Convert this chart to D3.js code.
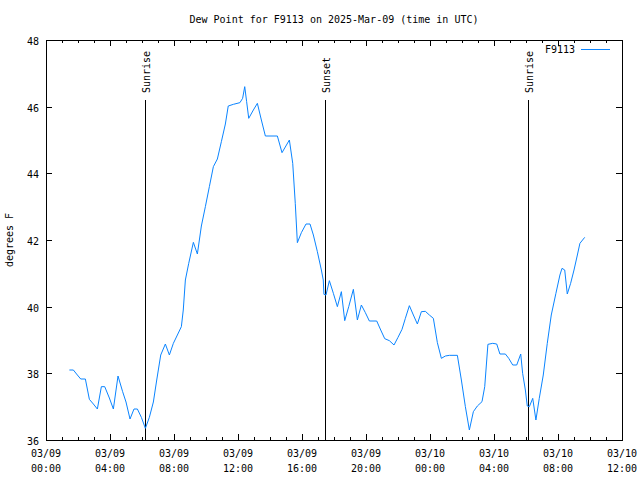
<!DOCTYPE html>
<html><head><meta charset="utf-8">
<script src="https://cdn.jsdelivr.net/npm/d3@7"></script>
<style>body{margin:0;background:#fff}svg{display:block}text{font-family:"DejaVu Sans Mono",monospace;font-size:10px;fill:#000}</style>
</head><body><svg id="c" width="640" height="480"></svg>
<script>
const title = "Dew Point for F9113 on 2025-Mar-09 (time in UTC)";
const seriesName = "F9113";
const yLabel = "degrees F";
// hours since 2025-03-09 00:00 UTC
const hours = [1.46,1.71,1.96,2.17,2.46,2.71,2.96,3.21,3.46,3.67,3.96,4.21,4.5,4.79,5.0,5.25,5.5,5.71,5.96,6.21,6.46,6.71,6.92,7.17,7.46,7.71,7.96,8.21,8.46,8.58,8.71,8.92,9.21,9.46,9.71,9.96,10.21,10.46,10.71,10.96,11.21,11.39,11.71,12.12,12.29,12.42,12.54,12.67,12.96,13.21,13.46,13.71,14.46,14.75,15.21,15.42,15.58,15.71,15.96,16.25,16.5,16.71,16.96,17.21,17.33,17.37,17.5,17.71,17.96,18.21,18.46,18.67,18.92,19.21,19.46,19.71,19.96,20.21,20.67,20.92,21.17,21.46,21.75,22.0,22.25,22.46,22.71,22.96,23.21,23.46,23.71,23.96,24.21,24.46,24.71,24.96,25.21,25.71,25.96,26.21,26.46,26.71,26.96,27.25,27.42,27.62,27.92,28.17,28.37,28.71,28.92,29.17,29.42,29.67,29.79,29.96,30.08,30.21,30.42,30.62,30.83,31.08,31.33,31.58,31.87,32.12,32.25,32.42,32.58,32.79,33.0,33.21,33.37,33.67];
const dewF = [38.1,38.1,37.95,37.83,37.83,37.22,37.08,36.93,37.6,37.6,37.26,36.93,37.92,37.45,37.14,36.63,36.93,36.93,36.68,36.35,36.68,37.14,37.8,38.55,38.88,38.55,38.9,39.15,39.4,39.9,40.8,41.3,41.93,41.58,42.42,43.0,43.6,44.2,44.43,44.95,45.48,46.02,46.07,46.12,46.25,46.6,46.15,45.65,45.9,46.1,45.6,45.12,45.12,44.62,45.0,44.3,43.1,41.92,42.22,42.48,42.48,42.15,41.65,41.1,40.8,40.37,40.35,40.78,40.4,40.0,40.45,39.58,40.0,40.52,39.6,40.05,39.82,39.57,39.57,39.3,39.04,38.98,38.85,39.08,39.32,39.65,40.03,39.75,39.48,39.85,39.86,39.75,39.65,38.92,38.45,38.52,38.54,38.54,37.8,37.0,36.3,36.85,37.02,37.15,37.6,38.87,38.9,38.88,38.58,38.58,38.45,38.25,38.25,38.58,38.0,37.5,37.02,37.0,37.25,36.6,37.25,37.95,38.9,39.75,40.4,40.95,41.15,41.1,40.38,40.7,41.1,41.55,41.9,42.08];
const events = [{label:"Sunrise", h:6.2},{label:"Sunset", h:17.46},{label:"Sunrise", h:30.12}];
const yTicks = [36,38,40,42,44,46,48];
const xTickHours = [0,4,8,12,16,20,24,28,32,36];

const t0 = Date.UTC(2025,2,9,0,0);
const toDate = h => new Date(t0 + h*3600000);
const L=46,R=622,T=40,B=440;
const svg = d3.select("#c");
const x = d3.scaleUtc().domain([toDate(0), toDate(36)]).range([L,R]);
const y = d3.scaleLinear().domain([36,48]).range([B,T]);

svg.append("rect").attr("x",L+0.5).attr("y",T+0.5).attr("width",R-L).attr("height",B-T)
  .attr("fill","none").attr("stroke","#000").attr("stroke-width",1);

const fmt = d3.utcFormat("%m/%d");
const fmt2 = d3.utcFormat("%H:%M");
const minorHours = d3.range(0,37);
const g = svg.append("g");
minorHours.forEach(h=>{
  const major = xTickHours.includes(h);
  const len = major?6:3;
  const xx = Math.round(x(toDate(h)))+0.5;
  g.append("line").attr("x1",xx).attr("x2",xx).attr("y1",B).attr("y2",B-len).attr("stroke","#000");
  g.append("line").attr("x1",xx).attr("x2",xx).attr("y1",T).attr("y2",T+len).attr("stroke","#000");
});
xTickHours.forEach(h=>{
  const d = toDate(h);
  const t = g.append("text").attr("x",x(d)).attr("text-anchor","middle");
  t.append("tspan").attr("x",x(d)).attr("y",457).text(fmt(d));
  t.append("tspan").attr("x",x(d)).attr("y",472).text(fmt2(d));
});
yTicks.forEach(v=>{
  const yy = Math.round(y(v))+0.5;
  g.append("line").attr("x1",L).attr("x2",L+6).attr("y1",yy).attr("y2",yy).attr("stroke","#000");
  g.append("line").attr("x1",R).attr("x2",R-6).attr("y1",yy).attr("y2",yy).attr("stroke","#000");
  g.append("text").attr("x",L-7).attr("y",y(v)+5).attr("text-anchor","end").text(v);
});

events.forEach(e=>{
  const xx = Math.round(x(toDate(e.h)))+0.5;
  svg.append("line").attr("x1",xx).attr("x2",xx).attr("y1",100).attr("y2",B).attr("stroke","#000");
  svg.append("text").attr("transform",`translate(${xx+4},93) rotate(-90)`).attr("text-anchor","start").text(e.label);
});

const line = d3.line().x((d,i)=>x(toDate(hours[i]))).y(d=>y(d));
svg.append("path").datum(dewF).attr("d",line).attr("fill","none").attr("stroke","#0a84ff").attr("stroke-width",1);

svg.append("text").attr("x",334).attr("y",23).attr("text-anchor","middle").text(title);
svg.append("text").attr("transform","translate(12.5,240) rotate(-90)").attr("text-anchor","middle").text(yLabel);
svg.append("text").attr("x",575).attr("y",53).attr("text-anchor","end").text(seriesName);
svg.append("line").attr("x1",581).attr("x2",610).attr("y1",49.5).attr("y2",49.5).attr("stroke","#0a84ff");
</script></body></html>
